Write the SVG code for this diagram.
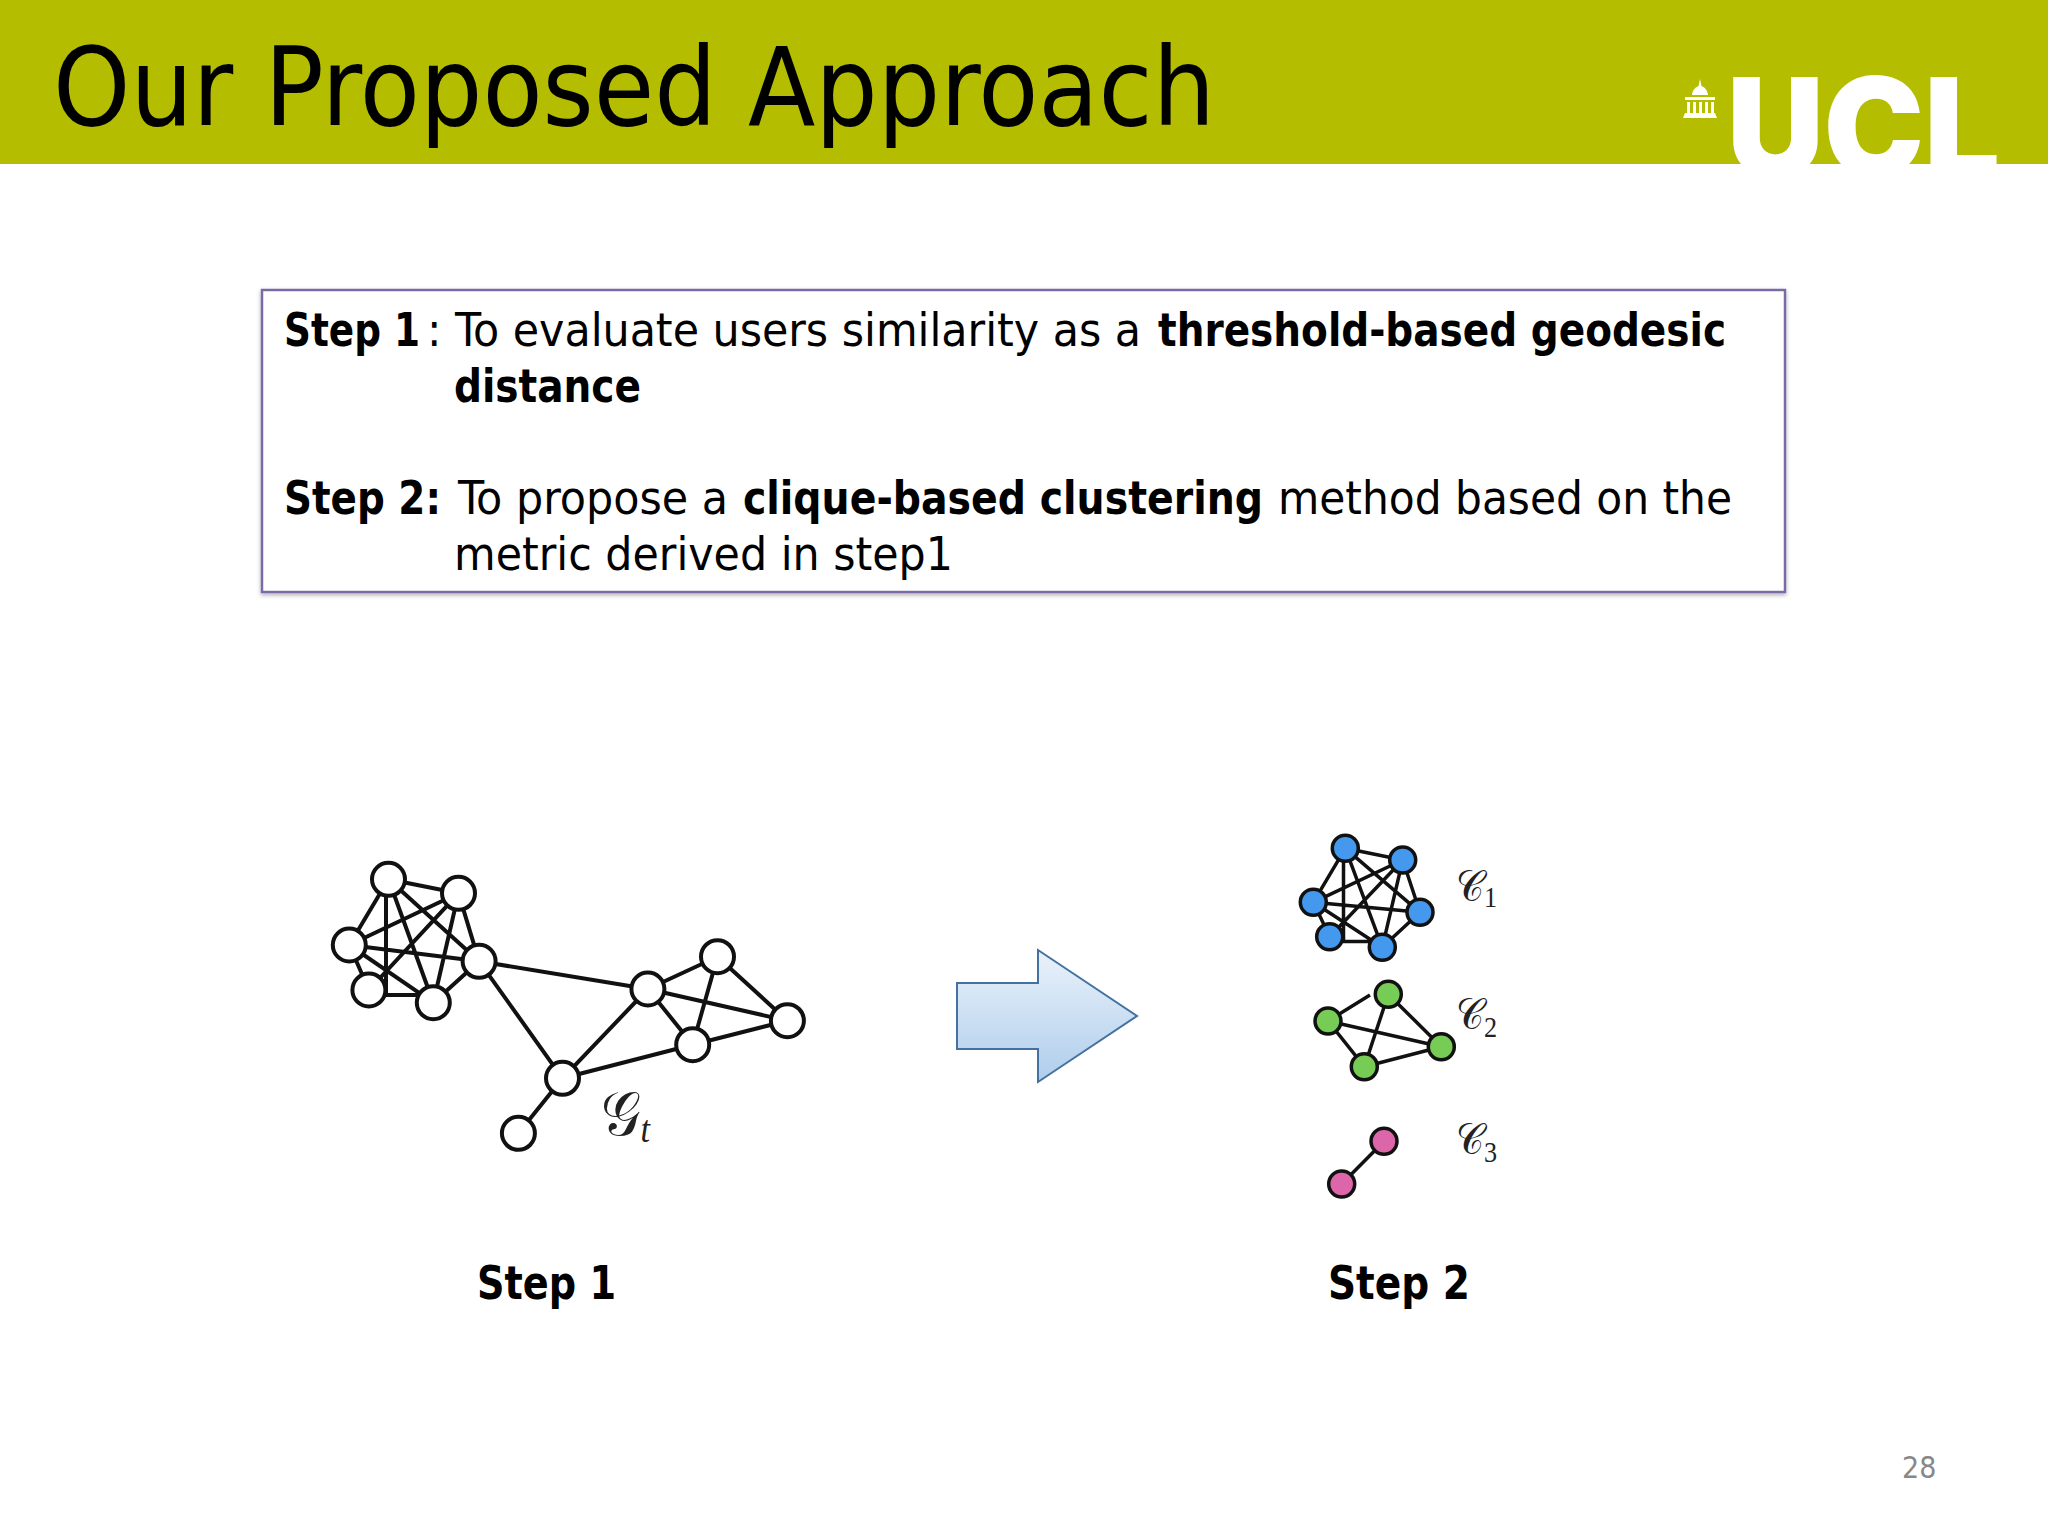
<svg xmlns="http://www.w3.org/2000/svg" width="2048" height="1536" viewBox="0 0 2048 1536">
<defs>
<linearGradient id="arrowFill" x1="0" y1="0" x2="0" y2="1"><stop offset="0" stop-color="#eaf2fb"/><stop offset="1" stop-color="#aecdeb"/></linearGradient>
<clipPath id="banner"><rect width="2048" height="164"/></clipPath>
<filter id="soft" x="-2%" y="-5%" width="104%" height="110%"><feDropShadow dx="0" dy="2" stdDeviation="2" flood-color="#000" flood-opacity="0.3"/></filter>
</defs>
<style>
text{font-family:"DejaVu Sans Condensed","DejaVu Sans",sans-serif}
.t{font-size:46px;fill:#000}
.b{font-weight:700}
.title{font-size:109px;fill:#000}
.e{stroke:#111;stroke-width:4;fill:none}
.n{stroke:#111;stroke-width:4;fill:#fff}
.m{stroke:#111;stroke-width:3.5;fill:none}
.blue{stroke:#111;stroke-width:3.5;fill:#4499ee}
.green{stroke:#111;stroke-width:3.5;fill:#77cc55}
.pink{stroke:#111;stroke-width:3.5;fill:#dd66aa}
text.math{font-family:"Liberation Serif",serif;font-size:44px;fill:#222}
tspan.sub{font-size:30px}
</style>
<rect id="bg" width="2048" height="1536" fill="#fff"/>
<g id="header">
<rect width="2048" height="164" fill="#b5bd00"/>
<text class="title" x="53" y="125" textLength="1162" lengthAdjust="spacingAndGlyphs">Our Proposed Approach</text>
</g>
<g id="logo" fill="#fff">
<text x="1727" y="177" clip-path="url(#banner)" style="font-family:Inter,sans-serif;font-weight:900;font-size:138px" fill="#fff" textLength="273" lengthAdjust="spacingAndGlyphs">UCL</text>
<path d="M1700 79l1.500 7c4 1.500 6 5 6.500 9h-16c.5-4 2.500-7.500 6.500-9zM1685 97h30v3h-30zM1687 102h3v11h-3zM1693 102h3v11h-3zM1699 102h3v11h-3zM1705 102h3v11h-3zM1711 102h3v11h-3zM1685 113h30l2 5h-34z"/>
</g>
<g id="stepsBox">
<rect x="262" y="290" width="1523" height="302" fill="#fff" stroke="#7b6ba6" stroke-width="2.500" filter="url(#soft)"/>
<text class="t b" x="284" y="346" textLength="136" lengthAdjust="spacingAndGlyphs">Step 1</text>
<text class="t" x="427" y="346" textLength="714" lengthAdjust="spacingAndGlyphs">: To evaluate users similarity as a</text>
<text class="t b" x="1158" y="346" textLength="568" lengthAdjust="spacingAndGlyphs">threshold-based geodesic</text>
<text class="t b" x="454" y="402" textLength="187" lengthAdjust="spacingAndGlyphs">distance</text>
<text class="t b" x="284" y="514" textLength="157" lengthAdjust="spacingAndGlyphs">Step 2:</text>
<text class="t" x="458" y="514" textLength="270" lengthAdjust="spacingAndGlyphs">To propose a</text>
<text class="t b" x="743" y="514" textLength="520" lengthAdjust="spacingAndGlyphs">clique-based clustering</text>
<text class="t" x="1278" y="514" textLength="454" lengthAdjust="spacingAndGlyphs">method based on the</text>
<text class="t" x="454" y="570" textLength="499" lengthAdjust="spacingAndGlyphs">metric derived in step1</text>
</g>
<g id="connectors">
<g class="e">
<path d="M388.500 879.300L458.500 893.300M388.500 879.300L349.300 945M386 879.300V995H433M388.500 879.300L433.300 1002.700M388.500 879.300L479.100 961.300M458.500 893.300L349.300 945M458.500 893.300L368.900 990M458.500 893.300L433.300 1002.700M458.500 893.300L479.100 961.300M349.300 945L368.900 990M349.300 945L433.300 1002.700M349.300 945L479.100 961.300M433.300 1002.700L479.100 961.300"/>
<path d="M479.100 961.300L647.900 989M479.100 961.300L562.500 1078.300M647.900 989L562.500 1078.300M562.500 1078.300L692.700 1044.700M562.500 1078.300L518.400 1133.300M647.900 989L717.500 956.700M647.900 989L787.400 1020.700M647.900 989L692.700 1044.700M717.500 956.700L787.400 1020.700M717.500 956.700L692.700 1044.700M692.700 1044.700L787.400 1020.700"/>
</g>
<g class="m">
<path d="M1345.300 848.300L1402.700 860M1345.300 848.300L1313.300 902.300M1343.500 848.300V941.500H1382M1345.300 848.300L1382.300 947.300M1345.300 848.300L1420 912.300M1402.700 860L1313.300 902.300M1402.700 860L1329.700 936.700M1402.700 860L1382.300 947.300M1402.700 860L1420 912.300M1313.300 902.300L1329.700 936.700M1313.300 902.300L1382.300 947.300M1313.300 902.300L1420 912.300M1382.300 947.300L1420 912.300"/>
<path d="M1328 1021L1370 995M1328 1021L1441.300 1046.700M1328 1021L1364.300 1066.700M1388.300 994.300L1364.300 1066.700M1388.300 994.300L1441.300 1046.700M1364.300 1066.700L1441.300 1046.700"/>
<path d="M1384 1141.300L1341.700 1184"/>
</g>
</g>
<g id="graphGt">
<g class="n">
<circle cx="388.500" cy="879.300" r="16.500"/><circle cx="458.500" cy="893.300" r="16.500"/><circle cx="349.300" cy="945" r="16.500"/><circle cx="368.900" cy="990" r="16.500"/><circle cx="433.300" cy="1002.700" r="16.500"/><circle cx="479.100" cy="961.300" r="16.500"/><circle cx="647.900" cy="989" r="16.500"/><circle cx="717.500" cy="956.700" r="16.500"/><circle cx="787.400" cy="1020.700" r="16.500"/><circle cx="692.700" cy="1044.700" r="16.500"/><circle cx="562.500" cy="1078.300" r="16.500"/><circle cx="518.400" cy="1133.300" r="16.500"/>
</g>
<text class="math" x="601" y="1135" style="font-size:62px" textLength="49" lengthAdjust="spacingAndGlyphs">𝒢<tspan dy="7" style="font-size:38px;font-style:italic">t</tspan></text>
</g>
<g id="arrow"><path d="M957 983H1038V950L1137 1016L1038 1082V1049H957Z" fill="url(#arrowFill)" stroke="#44719f" stroke-width="2"/></g>
<g id="clusterC1">
<g class="blue"><circle cx="1345.300" cy="848.300" r="13"/><circle cx="1402.700" cy="860" r="13"/><circle cx="1313.300" cy="902.300" r="13"/><circle cx="1420" cy="912.300" r="13"/><circle cx="1329.700" cy="936.700" r="13"/><circle cx="1382.300" cy="947.300" r="13"/></g>
<text class="math" x="1456" y="901" textLength="41" lengthAdjust="spacingAndGlyphs">𝒞<tspan class="sub" dy="6">1</tspan></text>
</g>
<g id="clusterC2">
<g class="green"><circle cx="1328" cy="1021" r="13"/><circle cx="1388.300" cy="994.300" r="13"/><circle cx="1441.300" cy="1046.700" r="13"/><circle cx="1364.300" cy="1066.700" r="13"/></g>
<text class="math" x="1456" y="1029" textLength="41" lengthAdjust="spacingAndGlyphs">𝒞<tspan class="sub" dy="8">2</tspan></text>
</g>
<g id="clusterC3">
<g class="pink"><circle cx="1384" cy="1141.300" r="13"/><circle cx="1341.700" cy="1184" r="13"/></g>
<text class="math" x="1456" y="1154" textLength="41" lengthAdjust="spacingAndGlyphs">𝒞<tspan class="sub" dy="8">3</tspan></text>
</g>
<g id="step1Label"><text class="t b" x="477" y="1299" textLength="139" lengthAdjust="spacingAndGlyphs">Step 1</text></g>
<g id="step2Label"><text class="t b" x="1328" y="1299" textLength="142" lengthAdjust="spacingAndGlyphs">Step 2</text></g>
<g id="pageNumber"><text x="1902" y="1478" font-size="30" fill="#888">28</text></g>
</svg>
